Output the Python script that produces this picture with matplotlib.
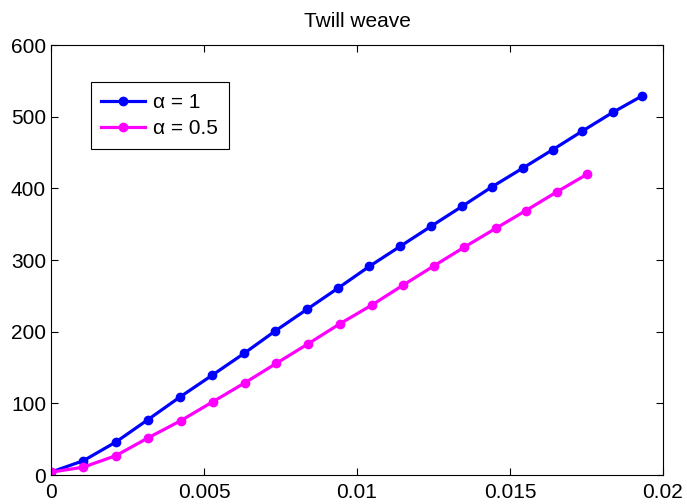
import numpy as np
import matplotlib
matplotlib.use('Agg')
import matplotlib.pyplot as plt
from matplotlib.ticker import FuncFormatter

# strain values and load for each weave parameter
x_a1 = [0, 0.00106, 0.00212, 0.00316, 0.00422, 0.00526, 0.00632, 0.00733, 0.00836, 0.00939,
        0.0104, 0.01141, 0.01242, 0.01344, 0.01441, 0.01541, 0.0164, 0.01737, 0.01836, 0.01932]
y_a1 = [4, 20, 46, 77, 109, 139, 170, 201, 231, 261,
        291, 319, 347, 375, 402, 428, 454, 480, 506, 529]

x_a05 = [0, 0.00106, 0.00212, 0.00318, 0.00425, 0.00528, 0.00635, 0.00737, 0.0084,
         0.00944, 0.01048, 0.01151, 0.01252, 0.01351, 0.01453, 0.01552, 0.01653, 0.01753]
y_a05 = [4, 11, 27, 52, 76, 102, 129, 156, 183,
         211, 237, 265, 292, 318, 344, 369, 395, 420]

plt.rcParams['font.family'] = ['Liberation Sans', 'DejaVu Sans']
plt.rcParams['font.size'] = 15

fig = plt.figure(figsize=(6.87, 5.04), dpi=100)
ax = fig.add_axes([0.0742, 0.0575, 0.8908, 0.8532])

ax.plot(x_a1, y_a1, '-o', color='#0000ff', lw=2.3, ms=6, label='\u03b1 = 1')
ax.plot(x_a05, y_a05, '-o', color='#ff00ff', lw=2.3, ms=6, label='\u03b1 = 0.5')

ax.set_xlim(0, 0.02)
ax.set_ylim(0, 600)
ax.set_xticks([0, 0.005, 0.01, 0.015, 0.02])
ax.set_yticks(np.arange(0, 601, 100))
ax.xaxis.set_major_formatter(FuncFormatter(lambda v, p: '%g' % v))
ax.tick_params(direction='in', top=True, right=True, length=5, width=0.8)
ax.tick_params(axis='x', pad=6)
for s in ax.spines.values():
    s.set_linewidth(0.8)

ax.set_title('Twill weave', fontsize=15, pad=13)

leg = ax.legend(loc='upper left', bbox_to_anchor=(0.065, 0.913), fancybox=False,
                edgecolor='black', framealpha=1, handlelength=2.1,
                borderpad=0.5, labelspacing=0.35, handletextpad=0.4, borderaxespad=0)
leg.get_frame().set_linewidth(0.8)

fig.savefig('out.png', dpi=100)
